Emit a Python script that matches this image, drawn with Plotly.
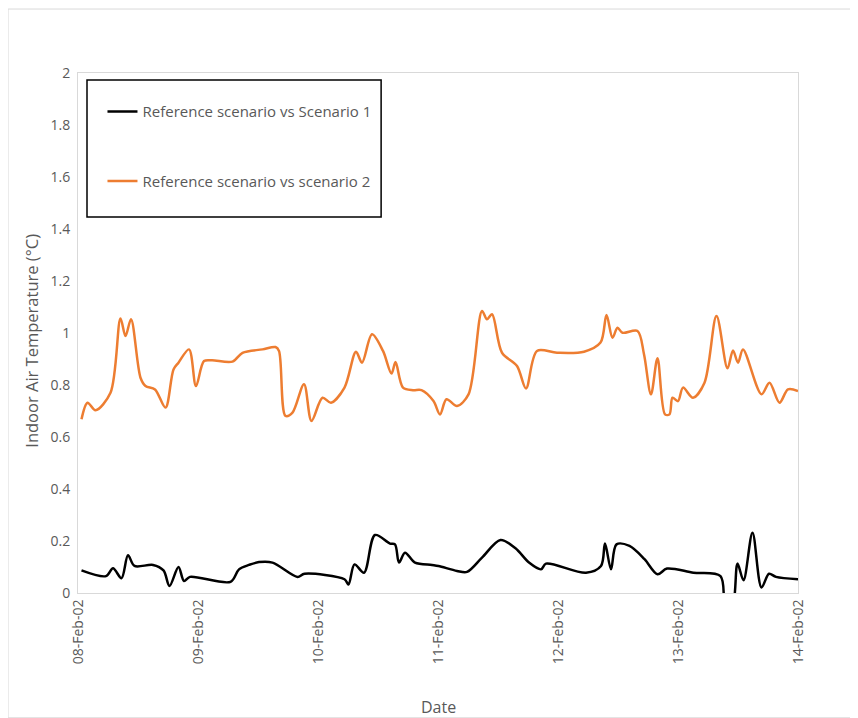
import pandas as pd
import plotly.graph_objects as go

start = pd.Timestamp("2002-02-08")

# hours after 08-Feb-02 00:00, and temperature difference (degC)
hours_s1 = [0.7, 5.6, 7.0, 8.7, 10.0, 11.3, 15.0, 17.1, 18.3, 20.1, 21.2, 22.4, 30.5, 32.2,
            34.2, 36.2, 38.9, 43.9, 45.3, 53.3, 54.1, 55.3, 57.2, 59.4, 62.4, 63.4, 64.2,
            65.4, 67.4, 70.8, 72.1, 75.8, 77.8, 80.8, 84.5, 87.5, 90.2, 92.6, 93.6, 101.6,
            104.6, 105.4, 106.6, 107.7, 110.3, 113.3, 115.9, 117.8, 123.1, 128.5, 129.5,
            130.8, 131.9, 133.1, 134.9, 136.7, 138.2, 139.6, 144.0]
diff_s1 = [0.087, 0.065, 0.095, 0.057, 0.145, 0.104, 0.108, 0.087, 0.027, 0.100, 0.046, 0.062,
           0.043, 0.091, 0.108, 0.119, 0.117, 0.062, 0.074, 0.053, 0.033, 0.110, 0.078, 0.223,
           0.190, 0.187, 0.117, 0.155, 0.117, 0.108, 0.104, 0.085, 0.081, 0.136, 0.204, 0.172,
           0.117, 0.091, 0.113, 0.078, 0.104, 0.190, 0.091, 0.187, 0.181, 0.130, 0.072, 0.094,
           0.078, 0.065, -0.06, -0.06, 0.113, 0.049, 0.232, 0.021, 0.074, 0.062, 0.053]

hours_s2 = [0.7, 1.9, 3.5, 6.5, 8.5, 9.5, 10.6, 12.5, 13.5, 15.4, 17.5, 19.1, 20.1, 22.2,
            23.6, 25.2, 26.8, 30.9, 32.9, 36.9, 39.5, 40.2, 41.5, 42.9, 45.2, 46.7, 48.9,
            50.6, 53.3, 55.6, 56.8, 58.8, 61.0, 62.7, 63.5, 65.0, 67.0, 68.7, 71.1, 72.4,
            73.7, 75.8, 78.1, 80.8, 81.8, 82.8, 84.8, 87.8, 89.6, 91.8, 95.8, 101.2, 104.5,
            105.7, 106.9, 107.9, 108.9, 111.9, 113.2, 114.6, 115.9, 117.4, 118.3, 118.9,
            120.0, 121.0, 123.0, 125.3, 127.7, 129.9, 131.0, 132.0, 133.0, 136.7, 138.3,
            140.3, 142.0, 144.0]
diff_s2 = [0.668, 0.732, 0.703, 0.770, 1.056, 0.988, 1.053, 0.828, 0.796, 0.783, 0.713, 0.860,
           0.886, 0.937, 0.796, 0.892, 0.895, 0.890, 0.924, 0.937, 0.946, 0.931, 0.681, 0.694,
           0.803, 0.662, 0.751, 0.732, 0.790, 0.928, 0.886, 0.995, 0.931, 0.844, 0.888, 0.790,
           0.780, 0.780, 0.738, 0.687, 0.745, 0.719, 0.764, 1.085, 1.053, 1.072, 0.924, 0.873,
           0.787, 0.931, 0.924, 0.928, 0.963, 1.069, 0.982, 1.020, 1.001, 1.008, 0.918, 0.764,
           0.903, 0.687, 0.687, 0.751, 0.738, 0.790, 0.751, 0.809, 1.065, 0.864, 0.933, 0.886,
           0.937, 0.764, 0.809, 0.732, 0.783, 0.777]

names = ["Reference scenario vs Scenario 1", "Reference scenario vs scenario 2"]
colors = ["#000000", "#ED7D31"]

t1 = start + pd.to_timedelta(hours_s1, unit="h")
t2 = start + pd.to_timedelta(hours_s2, unit="h")

font = "Open Sans, Arial, sans-serif"
grey = "#595959"

fig = go.Figure()
fig.add_trace(go.Scatter(x=t1, y=diff_s1, mode="lines", name=names[0], legendgroup="a",
                         line=dict(color=colors[0], width=2.5, shape="spline", smoothing=0.9)))
fig.add_trace(go.Scatter(x=t2, y=diff_s2, mode="lines", name=names[1], legendgroup="b",
                         line=dict(color=colors[1], width=2.5, shape="spline", smoothing=0.9)))

fig.update_layout(
    width=858, height=718,
    margin=dict(l=70, r=68, t=65, b=133),
    paper_bgcolor="white", plot_bgcolor="white",
    font=dict(family=font, size=14, color=grey),
    showlegend=True,
    legend=dict(x=0.034, y=0.957, xanchor="left", yanchor="top",
                bgcolor="rgba(0,0,0,0)", borderwidth=0,
                font=dict(size=15, color=grey), tracegroupgap=47),
    xaxis=dict(range=[start, start + pd.Timedelta(days=6)], dtick=86400000,
               tick0=start, tickformat="%d-%b-%y", tickangle=-90,
               showgrid=False, zeroline=False, showline=True, mirror=True,
               linecolor="#d9d9d9", linewidth=1, ticks="",
               tickfont=dict(size=14, color=grey)),
    yaxis=dict(range=[0, 2], dtick=0.2, showgrid=False, zeroline=False,
               showline=True, mirror=True, linecolor="#d9d9d9", linewidth=1,
               ticks="", ticklabelstandoff=4, tickfont=dict(size=14, color=grey)),
    shapes=[
        dict(type="rect", xref="paper", yref="paper", x0=-0.0972, x1=1.083,
             y0=-0.240, y1=1.123, line=dict(color="#d9d9d9", width=1), layer="below"),
        dict(type="rect", xref="paper", yref="paper", x0=0.0125, x1=0.421,
             y0=0.723, y1=0.9865, line=dict(color="#000000", width=1.5)),
    ],
    annotations=[
        dict(text="Indoor Air Temperature (°C)", xref="paper", yref="paper",
             x=-0.064, y=0.485, xanchor="center", yanchor="middle", textangle=-90,
             showarrow=False, font=dict(size=16.5, color=grey)),
        dict(text="Date", xref="paper", yref="paper", x=0.501, y=-0.219,
             xanchor="center", yanchor="middle",
             showarrow=False, font=dict(size=16, color=grey)),
    ],
)

fig.write_html("out.html")
